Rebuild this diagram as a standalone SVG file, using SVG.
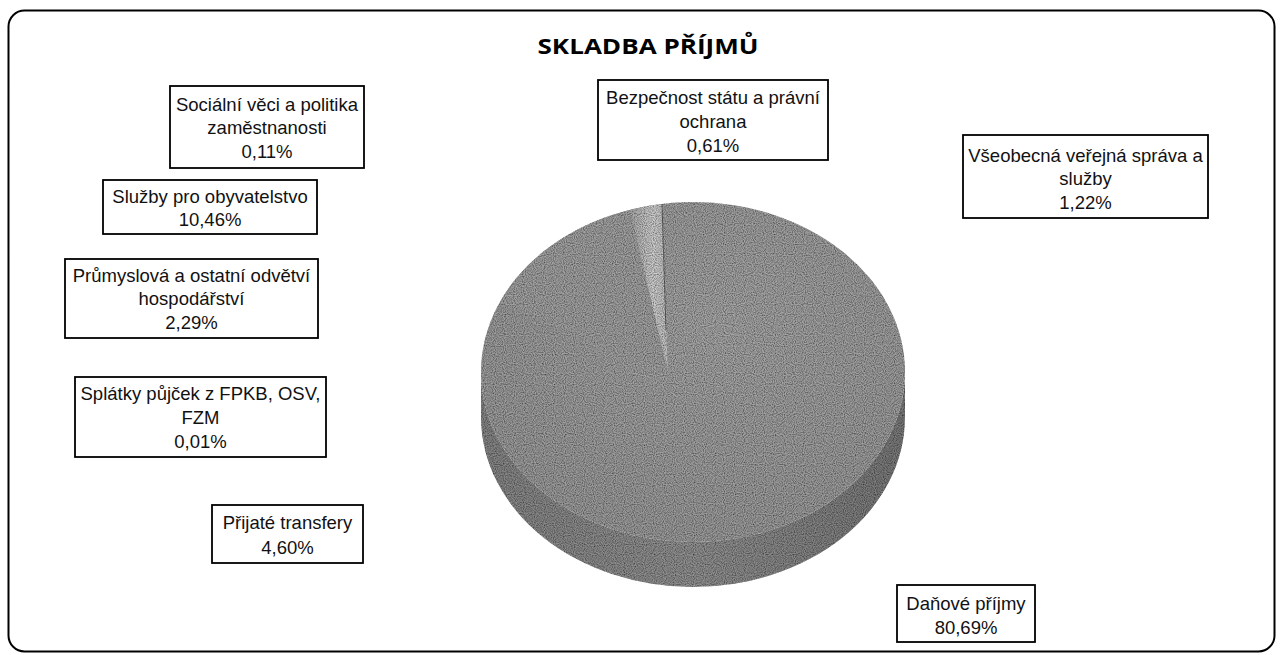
<svg xmlns="http://www.w3.org/2000/svg" width="1283" height="655" viewBox="0 0 1283 655">
<style>
.lbl rect{fill:#fff;stroke:#000;stroke-width:1.8}
.lbl text{font-family:"Liberation Sans",Arial,sans-serif;font-size:18.5px;fill:#111;text-anchor:middle}
.title{font-family:"Open Sans","Liberation Sans",sans-serif;font-size:22px;font-weight:bold;fill:#000;text-anchor:middle}
</style>
<defs>
<linearGradient id="sideG" x1="0" y1="0" x2="1" y2="0">
<stop offset="0" stop-color="#868686"/>
<stop offset="0.5" stop-color="#929292"/>
<stop offset="1" stop-color="#7a7a7a"/>
</linearGradient>
<radialGradient id="topG" cx="0.55" cy="0.35" r="0.75">
<stop offset="0" stop-color="#a8a8a8"/>
<stop offset="1" stop-color="#9a9a9a"/>
</radialGradient>
<linearGradient id="lightG" x1="0" y1="0" x2="1" y2="0">
<stop offset="0" stop-color="#aaaaaa"/>
<stop offset="0.6" stop-color="#d0d0d0"/>
<stop offset="1" stop-color="#c0c0c0"/>
</linearGradient>
<filter id="grain" x="0" y="0" width="1" height="1">
<feTurbulence type="fractalNoise" baseFrequency="0.9" numOctaves="1" seed="3" result="n"/>
<feColorMatrix in="n" type="matrix" values="0 0 0 0 0  0 0 0 0 0  0 0 0 0 0  0 0 0 -1.6 1.1" result="a"/>
<feComposite in="a" in2="SourceGraphic" operator="in" result="dots"/>
<feMerge><feMergeNode in="SourceGraphic"/><feMergeNode in="dots"/></feMerge>
</filter>
</defs>
<rect x="8.5" y="10.5" width="1266" height="641" rx="16" ry="16" fill="#fff" stroke="#000" stroke-width="2"/>
<text class="title" x="648" y="54" textLength="221" lengthAdjust="spacingAndGlyphs">SKLADBA PŘÍJMŮ</text>
<g id="pie" filter="url(#grain)">
<path d="M481,372 A212,170 0 0 0 905,372 L905,417 A212,170 0 0 1 481,417 Z" fill="url(#sideG)"/>
<ellipse cx="693" cy="372" rx="212" ry="170" fill="url(#topG)"/>
<path d="M668,372 L500,302 A212,170 0 0 1 630,210 Z" fill="#a3a3a3"/>
<path d="M668,372 L630,210 A212,170 0 0 1 662,204 Z" fill="url(#lightG)"/>
<line x1="662" y1="204" x2="666" y2="330" stroke="#666" stroke-width="1"/>
</g>
<g id="connectors"/>
<g id="n-socialni" class="lbl">
<rect x="170" y="86" width="194" height="82"/>
<text x="267" y="111">Sociální věci a politika</text>
<text x="267" y="134">zaměstnanosti</text>
<text x="267" y="158">0,11%</text>
</g>
<g id="n-bezpecnost" class="lbl">
<rect x="598" y="80" width="230" height="80"/>
<text x="713" y="104">Bezpečnost státu a právní</text>
<text x="713" y="128">ochrana</text>
<text x="713" y="152">0,61%</text>
</g>
<g id="n-vseobecna" class="lbl">
<rect x="963" y="135" width="245" height="83"/>
<text x="1085.5" y="162">Všeobecná veřejná správa a</text>
<text x="1085.5" y="185">služby</text>
<text x="1085.5" y="209">1,22%</text>
</g>
<g id="n-sluzby" class="lbl">
<rect x="103" y="180" width="214" height="54"/>
<text x="210" y="203">Služby pro obyvatelstvo</text>
<text x="210" y="226">10,46%</text>
</g>
<g id="n-prumyslova" class="lbl">
<rect x="65" y="259" width="253" height="79"/>
<text x="191.5" y="282">Průmyslová a ostatní odvětví</text>
<text x="191.5" y="305">hospodářství</text>
<text x="191.5" y="329">2,29%</text>
</g>
<g id="n-splatky" class="lbl">
<rect x="75" y="377" width="251" height="80"/>
<text x="200.5" y="400">Splátky půjček z FPKB, OSV,</text>
<text x="200.5" y="424">FZM</text>
<text x="200.5" y="448">0,01%</text>
</g>
<g id="n-prijate" class="lbl">
<rect x="212" y="505" width="151" height="58"/>
<text x="287.5" y="529">Přijaté transfery</text>
<text x="287.5" y="554">4,60%</text>
</g>
<g id="n-danove" class="lbl">
<rect x="897" y="585" width="138" height="57"/>
<text x="966" y="610">Daňové příjmy</text>
<text x="966" y="634">80,69%</text>
</g>
</svg>
